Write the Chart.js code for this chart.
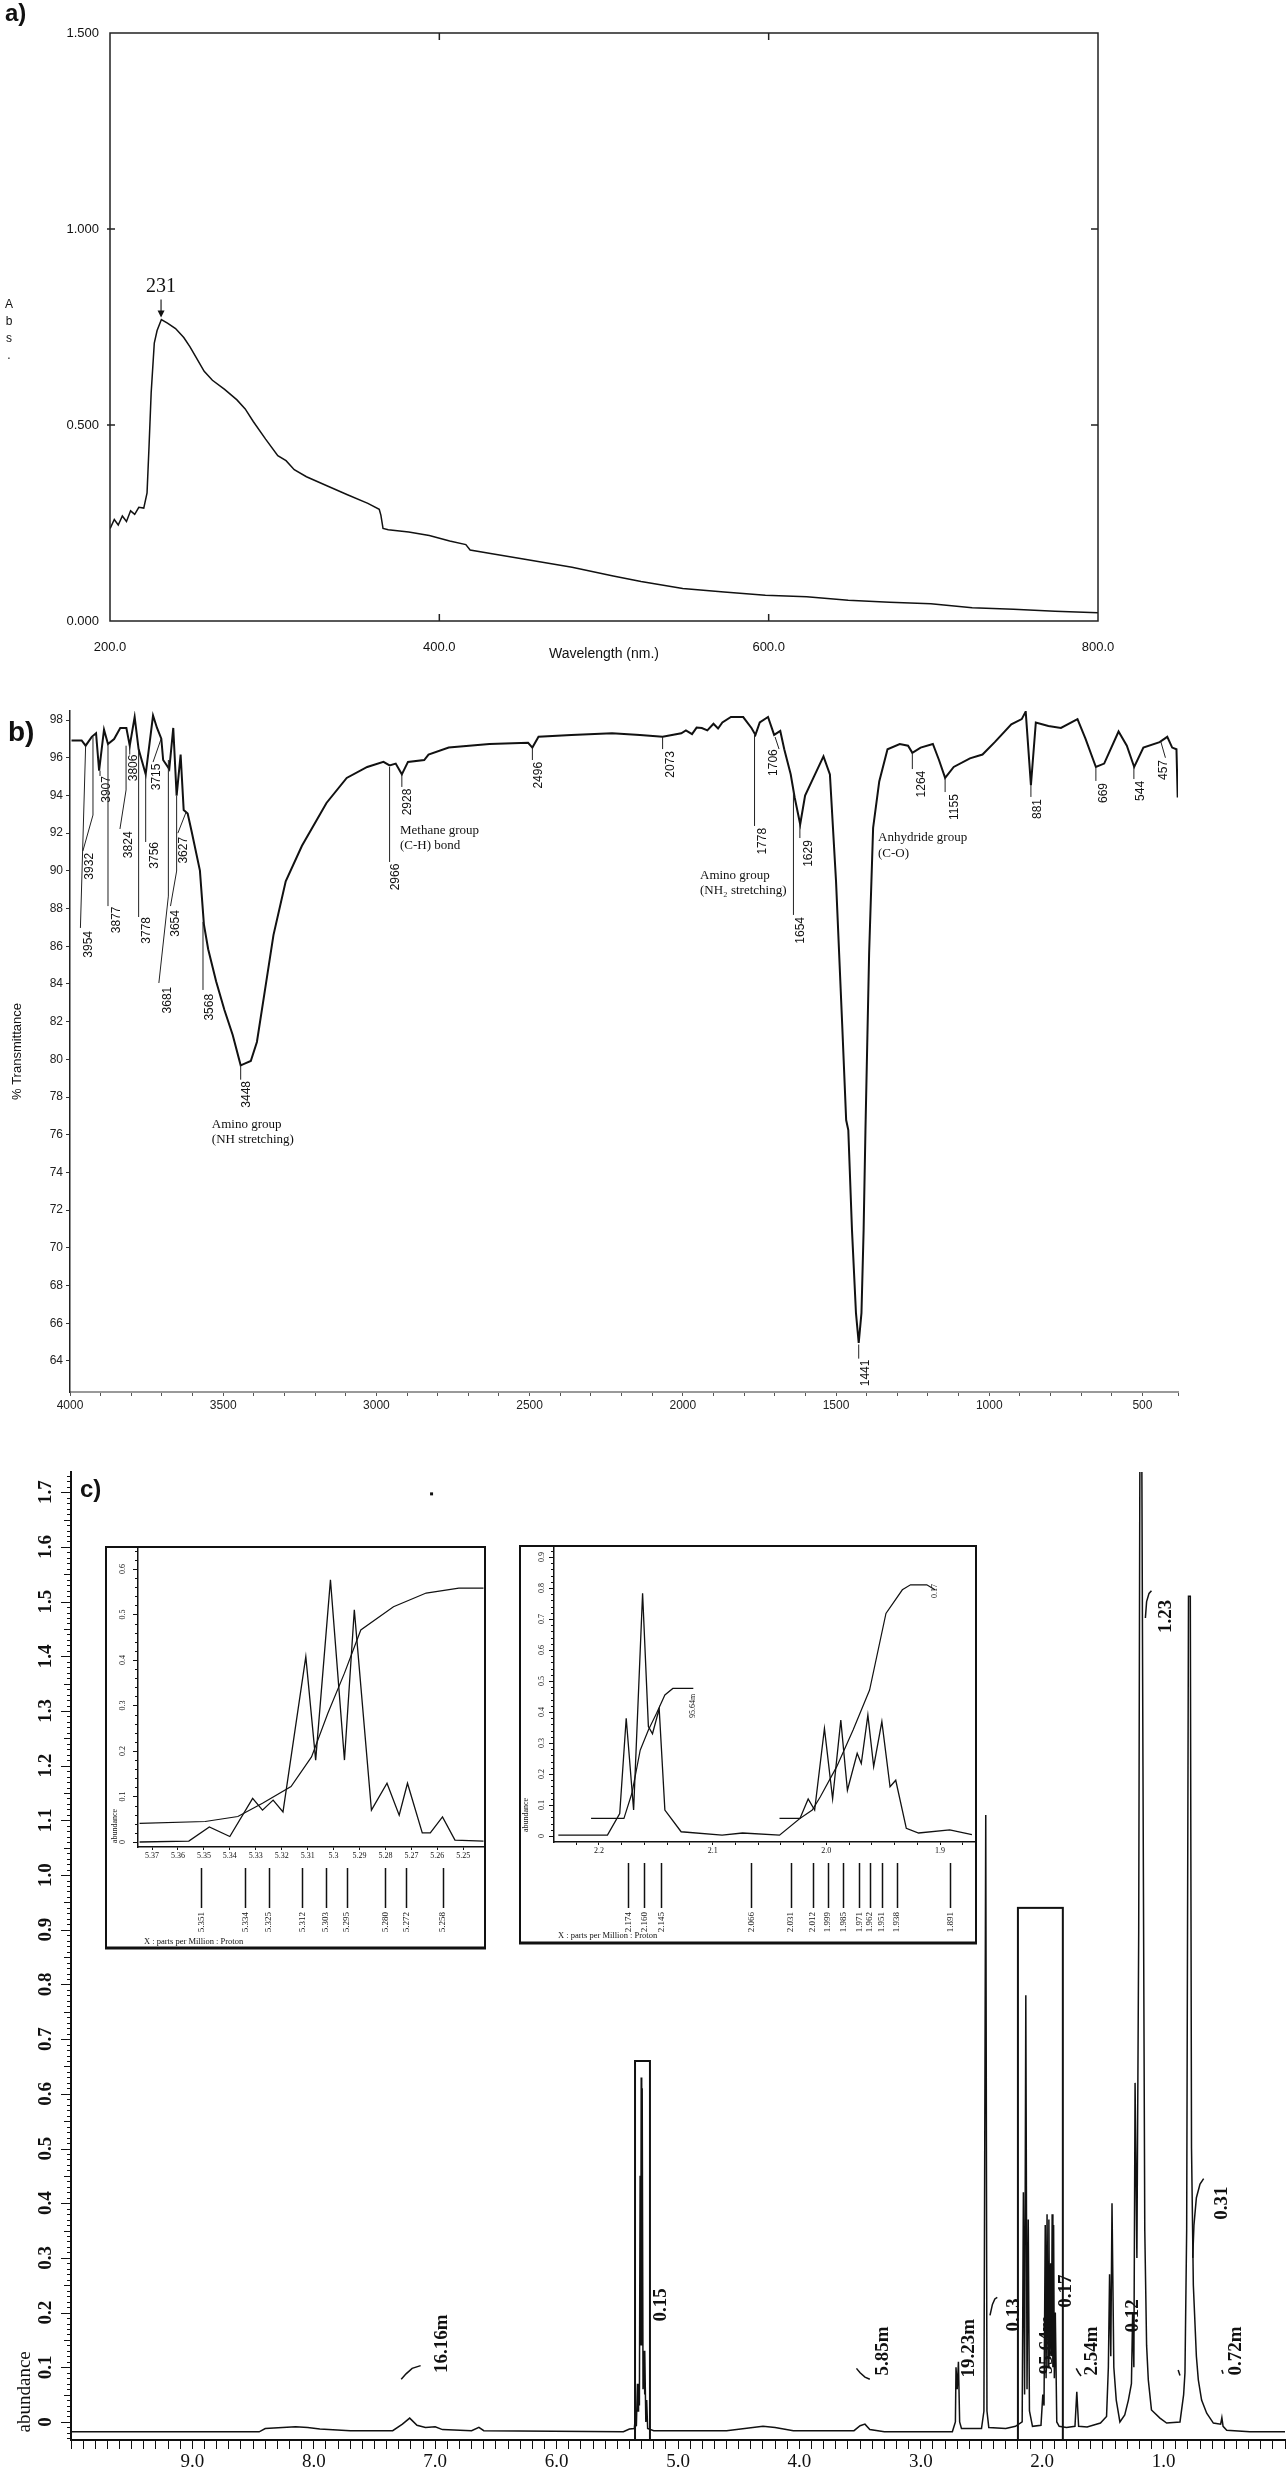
<!DOCTYPE html>
<html>
<head>
<meta charset="utf-8">
<title>UV-Vis, FTIR and 1H NMR spectra</title>
<script src="https://cdn.jsdelivr.net/npm/chart.js@4.4.1/dist/chart.umd.min.js"></script>
<style>
  html, body { margin: 0; padding: 0; background: #fff; }
  body { position: relative; width: 1287px; height: 2481px; overflow: hidden; }
  canvas { position: absolute; }
</style>
</head>
<body>
<canvas id="uv" width="1287" height="680" style="left:0;top:0"></canvas>
<canvas id="ir" width="1287" height="760" style="left:0;top:680px"></canvas>
<canvas id="nmr" width="1287" height="1041" style="left:0;top:1440px"></canvas>
<canvas id="ins1" width="381" height="404" style="left:105px;top:1546px"></canvas>
<canvas id="ins2" width="458" height="400" style="left:519px;top:1545px"></canvas>
<script>
const SANS = "'Liberation Sans', Arial, sans-serif";
const SERIF = "'Liberation Serif', 'Times New Roman', serif";

// ---- a) UV-Vis ----
const uvWavelength = [200.1, 202.6, 205, 207.5, 210, 212.5, 215, 217.5, 220.5, 222.5, 223.7, 225, 226.9, 228.6, 231.2, 234.9, 239.8, 244.8, 248.5, 252.2, 257.2, 262.2, 269.6, 277.1, 282.1, 287, 294.5, 301.9, 306.9, 311.9, 319.3, 331.7, 344.2, 356.6, 363.5, 364.5, 365.8, 369, 381.4, 393.9, 406.3, 416.1, 418.7, 431.1, 451, 480.6, 505.6, 522.5, 547.8, 572.9, 598, 623.1, 648.3, 673.4, 698.5, 723.6, 748.7, 773.9, 800];
const uvAbsorbance = [0.236, 0.259, 0.245, 0.268, 0.254, 0.281, 0.272, 0.29, 0.288, 0.327, 0.445, 0.582, 0.709, 0.741, 0.769, 0.76, 0.746, 0.723, 0.7, 0.673, 0.637, 0.614, 0.591, 0.564, 0.541, 0.509, 0.464, 0.422, 0.409, 0.386, 0.368, 0.345, 0.322, 0.3, 0.285, 0.27, 0.236, 0.233, 0.227, 0.218, 0.204, 0.195, 0.181, 0.172, 0.158, 0.137, 0.115, 0.101, 0.083, 0.074, 0.066, 0.062, 0.053, 0.048, 0.044, 0.034, 0.03, 0.025, 0.021];
const uvPeakLabel = '231';

// ---- b) FTIR ----
const irWavenumber = [3995, 3962, 3949, 3929, 3915, 3905, 3889, 3876, 3856, 3836, 3816, 3805, 3789, 3776, 3753, 3729, 3716, 3702, 3696, 3676, 3663, 3652, 3639, 3629, 3616, 3603, 3576, 3563, 3549, 3523, 3496, 3469, 3443, 3430, 3410, 3390, 3363, 3336, 3296, 3243, 3163, 3097, 3030, 2977, 2957, 2937, 2917, 2897, 2844, 2830, 2764, 2631, 2505, 2491, 2471, 2364, 2231, 2140, 2066, 2005, 1990, 1970, 1955, 1938, 1920, 1900, 1885, 1871, 1843, 1803, 1776, 1763, 1749, 1722, 1702, 1682, 1669, 1648, 1635, 1617, 1601, 1574, 1541, 1520, 1500, 1480, 1467, 1460, 1448, 1435, 1426, 1417, 1410, 1404, 1392, 1379, 1359, 1332, 1292, 1265, 1251, 1224, 1184, 1164, 1144, 1116, 1063, 1022, 982, 928, 894, 881, 864, 848, 807, 766, 712, 686, 652, 625, 578, 551, 527, 497, 444, 419, 403, 389, 385];
const irTransmittance = [96.92, 96.92, 96.64, 97.11, 97.30, 95.31, 97.49, 96.73, 96.99, 97.58, 97.58, 96.64, 98.16, 96.45, 95.12, 98.24, 97.58, 97.01, 95.88, 95.40, 97.58, 93.99, 96.17, 93.23, 93.04, 92.09, 90.01, 87.16, 85.84, 84.13, 82.62, 81.29, 79.68, 79.77, 79.91, 80.92, 83.75, 86.59, 89.44, 91.33, 93.60, 94.93, 95.51, 95.78, 95.59, 95.69, 95.12, 95.78, 95.88, 96.17, 96.54, 96.73, 96.79, 96.54, 97.11, 97.21, 97.30, 97.21, 97.11, 97.30, 97.45, 97.25, 97.6, 97.58, 97.45, 97.8, 97.55, 97.87, 98.16, 98.16, 97.58, 97.21, 97.87, 98.16, 97.21, 97.42, 96.45, 95.12, 93.89, 92.47, 93.99, 94.93, 96.07, 95.12, 89.44, 81.87, 76.78, 76.25, 70.95, 66.55, 64.95, 66.55, 70.95, 76.25, 85.65, 92.28, 94.74, 96.45, 96.73, 96.64, 96.26, 96.54, 96.73, 95.88, 94.93, 95.51, 95.97, 96.17, 96.83, 97.77, 98.05, 98.45, 94.55, 97.87, 97.68, 97.58, 98.05, 97.01, 95.51, 95.69, 97.39, 96.64, 95.51, 96.54, 96.83, 97.11, 96.54, 96.45, 93.89];
const irYTicks = [64, 66, 68, 70, 72, 74, 76, 78, 80, 82, 84, 86, 88, 90, 92, 94, 96, 98];

// peak labels: text, where the text sits (cm-1, %T of its top) and its leader line
const irNotes = [
  { t: '3954', x: 3938, y: 86.81, line: [[3949, 96.64], [3966, 86.97]] },
  { t: '3932', x: 3935, y: 90.95, line: [[3925, 97.10], [3925, 92.96], [3958, 91.05]] },
  { t: '3907', x: 3879, y: 95.03, line: [[3902, 95.31], [3902, 95.03]] },
  { t: '3877', x: 3849, y: 88.11, line: [[3876, 96.73], [3876, 88.13]] },
  { t: '3824', x: 3809, y: 92.09, line: [[3817, 96.64], [3817, 94.29], [3837, 92.22]] },
  { t: '3806', x: 3793, y: 96.17, line: [[3805, 96.64], [3805, 96.17]] },
  { t: '3778', x: 3749, y: 87.55, line: [[3776, 96.46], [3776, 87.55]] },
  { t: '3756', x: 3723, y: 91.53, line: [[3753, 95.14], [3753, 91.53]] },
  { t: '3715', x: 3716, y: 95.69, line: [[3703, 96.99], [3729, 95.77]] },
  { t: '3681', x: 3680, y: 83.85, line: [[3679, 95.88], [3679, 88.66], [3710, 84.05]] },
  { t: '3654', x: 3656, y: 87.92, line: [[3652, 93.97], [3652, 89.99], [3672, 88.13]] },
  { t: '3627', x: 3629, y: 91.80, line: [[3621, 93.12], [3648, 92.0]] },
  { t: '3568', x: 3543, y: 83.47, line: [[3566, 87.29], [3566, 83.68]] },
  { t: '3448', x: 3423, y: 78.85, line: [[3443, 79.68], [3443, 78.92]] },
  { t: '2966', x: 2937, y: 90.38, line: [[2957, 95.51], [2957, 90.47]] },
  { t: '2928', x: 2897, y: 94.36, line: [[2917, 95.14], [2917, 94.45]] },
  { t: '2496', x: 2471, y: 95.78, line: [[2491, 96.54], [2491, 95.88]] },
  { t: '2073', x: 2039, y: 96.36, line: [[2066, 97.11], [2066, 96.46]] },
  { t: '1778', x: 1738, y: 92.28, line: [[1766, 97.21], [1766, 92.38]] },
  { t: '1706', x: 1703, y: 96.45, line: [[1699, 97.10], [1686, 96.46]] },
  { t: '1654', x: 1614, y: 87.55, line: [[1639, 94.18], [1639, 87.66]] },
  { t: '1629', x: 1588, y: 91.63, line: [[1618, 92.48], [1618, 91.74]] },
  { t: '1264', x: 1220, y: 95.31, line: [[1251, 96.26], [1251, 95.40]] },
  { t: '1155', x: 1114, y: 94.07, line: [[1144, 94.92], [1144, 94.18]] },
  { t: '881', x: 841, y: 93.81, line: [[864, 94.55], [864, 93.92]] },
  { t: '669', x: 626, y: 94.66, line: [[652, 95.51], [652, 94.77]] },
  { t: '544', x: 505, y: 94.77, line: [[528, 95.51], [528, 94.87]] },
  { t: '457', x: 432, y: 95.88, line: [[440, 96.85], [425, 96.0]] },
  { t: '1441', x: 1404, y: 64.07, line: [[1426, 64.87], [1426, 64.12]] }
];
const irGroups = [
  { lines: ['Methane group', '(C-H) bond'], x: 2923, y: [92.11, 91.32] },
  { lines: ['Amino group', '(NH\u2082 stretching)'], x: 1944, y: [89.73, 88.93] },
  { lines: ['Anhydride group', '(C-O)'], x: 1363, y: [91.74, 90.89] },
  { lines: ['Amino group', '(NH stretching)'], x: 3537, y: [76.52, 75.72] }
];

// ---- c) 1H NMR ----
const nmrShift = [10.00, 8.45, 8.40, 8.15, 8.05, 7.95, 7.70, 7.35, 7.27, 7.21, 7.15, 7.08, 7.00, 6.94, 6.70, 6.64, 6.60, 5.45, 5.40, 5.36, 5.351, 5.343, 5.334, 5.329, 5.325, 5.318, 5.312, 5.307, 5.303, 5.299, 5.295, 5.288, 5.280, 5.276, 5.272, 5.265, 5.258, 5.250, 5.200, 4.60, 4.45, 4.30, 4.20, 4.05, 3.55, 3.50, 3.46, 3.42, 3.30, 2.74, 2.715, 2.710, 2.700, 2.690, 2.680, 2.665, 2.50, 2.48, 2.465, 2.455, 2.44, 2.30, 2.22, 2.165, 2.155, 2.145, 2.135, 2.125, 2.115, 2.105, 2.08, 2.01, 1.995, 1.985, 1.975, 1.968, 1.960, 1.952, 1.945, 1.938, 1.930, 1.924, 1.918, 1.912, 1.906, 1.900, 1.892, 1.880, 1.860, 1.80, 1.73, 1.715, 1.70, 1.63, 1.52, 1.47, 1.455, 1.445, 1.435, 1.425, 1.41, 1.39, 1.36, 1.32, 1.29, 1.265, 1.255, 1.245, 1.235, 1.22, 1.205, 1.195, 1.18, 1.17, 1.155, 1.14, 1.126, 1.10, 1.03, 0.975, 0.865, 0.835, 0.824, 0.81, 0.795, 0.78, 0.77, 0.755, 0.73, 0.714, 0.687, 0.645, 0.59, 0.53, 0.52, 0.51, 0.48, 0.29, 0.00];
const nmrAbundance = [-0.018, -0.018, -0.012, -0.009, -0.010, -0.013, -0.016, -0.016, -0.004, 0.007, -0.006, -0.010, -0.009, -0.014, -0.016, -0.010, -0.016, -0.018, -0.013, -0.012, 0.010, -0.008, 0.070, 0.020, 0.070, 0.030, 0.450, 0.140, 0.630, 0.140, 0.610, 0.060, 0.130, 0.050, 0.130, 0.000, 0.040, -0.012, -0.016, -0.016, -0.012, -0.008, -0.010, -0.016, -0.016, -0.007, -0.004, -0.014, -0.018, -0.018, 0.000, 0.100, 0.060, 0.110, 0.000, -0.012, -0.012, 0.020, 1.110, 0.020, -0.010, -0.012, -0.008, 0.000, 0.420, 0.050, 0.780, 0.060, 0.370, 0.020, -0.008, -0.006, 0.050, 0.030, 0.360, 0.080, 0.380, 0.100, 0.370, 0.120, 0.290, 0.120, 0.380, 0.100, 0.360, 0.080, 0.200, 0.000, -0.008, -0.010, -0.008, 0.055, -0.008, -0.009, -0.002, 0.010, 0.100, 0.270, 0.120, 0.400, 0.100, 0.040, 0.000, 0.013, 0.040, 0.070, 0.200, 0.100, 0.620, 0.300, 0.900, 1.800, 1.800, 1.200, 0.350, 0.140, 0.077, 0.022, 0.007, -0.002, 0.000, 0.050, 0.090, 0.350, 1.510, 1.510, 0.500, 0.250, 0.120, 0.077, 0.040, 0.016, -0.002, -0.004, 0.008, -0.008, -0.015, -0.018, -0.018];
const nmrYTicks = [0, 0.1, 0.2, 0.3, 0.4, 0.5, 0.6, 0.7, 0.8, 0.9, 1.0, 1.1, 1.2, 1.3, 1.4, 1.5, 1.6, 1.7];
const nmrIntegrals = [
  { t: '16.16m', x: 6.94, y: 0.143 }, { t: '0.15', x: 5.14, y: 0.214 },
  { t: '5.85m', x: 3.31, y: 0.13 }, { t: '19.23m', x: 2.60, y: 0.135 },
  { t: '0.13', x: 2.23, y: 0.196 }, { t: '95.64m', x: 1.96, y: 0.141 },
  { t: '0.17', x: 1.80, y: 0.239 }, { t: '2.54m', x: 1.59, y: 0.13 },
  { t: '0.12', x: 1.25, y: 0.194 }, { t: '0.31', x: 0.52, y: 0.40 },
  { t: '0.72m', x: 0.40, y: 0.13 }, { t: '1.23', x: 0.98, y: 1.473 }
];
const nmrHooks = [
  [[7.28, 0.078], [7.24, 0.088], [7.19, 0.098], [7.12, 0.103]],
  [[3.53, 0.098], [3.50, 0.09], [3.46, 0.082], [3.42, 0.078]],
  [[2.43, 0.195], [2.41, 0.215], [2.39, 0.225], [2.37, 0.228]],
  [[1.72, 0.098], [1.70, 0.09], [1.68, 0.084]],
  [[0.76, 0.30], [0.75, 0.36], [0.73, 0.41], [0.70, 0.435], [0.67, 0.445]],
  [[0.88, 0.095], [0.865, 0.085]],
  [[0.52, 0.095], [0.51, 0.088]],
  [[1.15, 1.47], [1.14, 1.50], [1.12, 1.515], [1.10, 1.52]]
];
const nmrBoxes = [[5.354, 5.231, 0.66, -0.033], [2.20, 1.83, 0.94, -0.033]];

// inset 1 (5.3 ppm multiplet)
const ins1Shift = [5.3748, 5.3558, 5.3479, 5.3400, 5.3312, 5.3274, 5.3233, 5.3195, 5.3107, 5.3069, 5.3012, 5.2958, 5.2920, 5.2854, 5.2794, 5.2747, 5.2715, 5.2658, 5.2627, 5.2580, 5.2532, 5.2422];
const ins1Abundance = [0.000, 0.002, 0.033, 0.012, 0.096, 0.070, 0.092, 0.066, 0.407, 0.180, 0.576, 0.180, 0.510, 0.070, 0.129, 0.059, 0.129, 0.020, 0.020, 0.055, 0.004, 0.002];
const ins1IntShift = [5.3748, 5.3495, 5.3369, 5.3274, 5.3164, 5.3085, 5.3022, 5.2958, 5.2895, 5.2769, 5.2643, 5.2517, 5.2422];
const ins1IntValue = [0.041, 0.045, 0.056, 0.085, 0.122, 0.187, 0.283, 0.371, 0.466, 0.517, 0.547, 0.558, 0.558];
const ins1XTicks = [5.37, 5.36, 5.35, 5.34, 5.33, 5.32, 5.31, 5.3, 5.29, 5.28, 5.27, 5.26, 5.25];
const ins1Peaks = ['5.351', '5.334', '5.325', '5.312', '5.303', '5.295', '5.280', '5.272', '5.258'];
const ins1YTicks = [0, 0.1, 0.2, 0.3, 0.4, 0.5, 0.6];

// inset 2 (2.2 - 1.9 ppm)
const ins2Shift = [2.2357, 2.1925, 2.1817, 2.1760, 2.1695, 2.1616, 2.1565, 2.1529, 2.1470, 2.1420, 2.1277, 2.0917, 2.0737, 2.0412, 2.0232, 2.0160, 2.0103, 2.0017, 1.9945, 1.9873, 1.9815, 1.9729, 1.9693, 1.9635, 1.9584, 1.9512, 1.9440, 1.9390, 1.9297, 1.9189, 1.8915, 1.8720];
const ins2Abundance = [0.003, 0.003, 0.073, 0.380, 0.084, 0.783, 0.353, 0.330, 0.410, 0.084, 0.014, 0.003, 0.010, 0.003, 0.057, 0.120, 0.084, 0.347, 0.120, 0.374, 0.148, 0.267, 0.234, 0.390, 0.224, 0.369, 0.159, 0.180, 0.025, 0.010, 0.020, 0.005];
const ins2IntAShift = [2.2069, 2.1780, 2.1710, 2.1637, 2.1565, 2.1493, 2.1420, 2.1350, 2.1170];
const ins2IntAValue = [0.057, 0.057, 0.138, 0.277, 0.342, 0.396, 0.455, 0.476, 0.476];
const ins2IntBShift = [2.0412, 2.0232, 2.0124, 2.0053, 1.9909, 1.9765, 1.9620, 1.9476, 1.9332, 1.9260, 1.9117, 1.9045];
const ins2IntBValue = [0.057, 0.057, 0.084, 0.127, 0.224, 0.342, 0.471, 0.718, 0.794, 0.810, 0.810, 0.794];
const ins2XTicks = [2.22, 2.2, 2.18, 2.16, 2.14, 2.12, 2.1, 2.08, 2.06, 2.04, 2.02, 2.0, 1.98, 1.96, 1.94, 1.92, 1.9, 1.88];
const ins2Peaks = ['2.174', '2.160', '2.145', '2.066', '2.031', '2.012', '1.999', '1.985', '1.971', '1.962', '1.951', '1.938', '1.891'];
const ins2YTicks = [0, 0.1, 0.2, 0.3, 0.4, 0.5, 0.6, 0.7, 0.8, 0.9];

// ---------- helpers ----------
const pts = (xs, ys) => xs.map((x, i) => ({ x: x, y: ys[i] }));
const line = (xs, ys, w) => ({ data: pts(xs, ys), borderColor: '#111', borderWidth: w, pointRadius: 0, tension: 0, fill: false });
const onStep = (v, f) => Math.abs(v * f - Math.round(v * f)) < 1e-6;

function upText(ctx, text, px, py, align) {
  ctx.save();
  ctx.translate(px, py);
  ctx.rotate(-Math.PI / 2);
  ctx.textAlign = align || 'center';
  ctx.textBaseline = 'middle';
  ctx.fillText(text, 0, 0);
  ctx.restore();
}
function path(ctx, x, y, list) {
  ctx.beginPath();
  list.forEach(([a, b], i) => {
    const px = x.getPixelForValue(a), py = y.getPixelForValue(b);
    if (i) ctx.lineTo(px, py); else ctx.moveTo(px, py);
  });
  ctx.stroke();
}
function baseOptions() {
  return {
    animation: false, responsive: false, events: [],
    plugins: { legend: { display: false }, tooltip: { enabled: false } }
  };
}

// ---------- a) UV ----------
const uvDecor = {
  id: 'uvDecor',
  afterDraw(chart) {
    const { ctx, chartArea: a, scales: { x, y } } = chart;
    ctx.save();
    ctx.strokeStyle = '#222';
    ctx.lineWidth = 1.5;
    ctx.strokeRect(a.left, a.top, a.right - a.left, a.bottom - a.top);
    ctx.beginPath();
    [400, 600].forEach(v => {
      const px = x.getPixelForValue(v);
      ctx.moveTo(px, a.top); ctx.lineTo(px, a.top + 7);
      ctx.moveTo(px, a.bottom); ctx.lineTo(px, a.bottom - 7);
    });
    [0.5, 1.0].forEach(v => {
      const py = y.getPixelForValue(v);
      ctx.moveTo(a.left - 3, py); ctx.lineTo(a.left + 5, py);
      ctx.moveTo(a.right, py); ctx.lineTo(a.right - 7, py);
    });
    ctx.stroke();

    ctx.fillStyle = '#111';
    ctx.font = 'bold 24px ' + SANS;
    ctx.textAlign = 'left'; ctx.textBaseline = 'alphabetic';
    ctx.fillText('a)', 5, 21);

    ctx.font = '12px ' + SANS;
    ctx.textAlign = 'center'; ctx.textBaseline = 'middle';
    ['A', 'b', 's', '.'].forEach((c, i) => ctx.fillText(c, 9, 305 + i * 17));

    const px = x.getPixelForValue(231);
    ctx.font = '20px ' + SERIF;
    ctx.fillText(uvPeakLabel, px, y.getPixelForValue(0.852));
    const y0 = y.getPixelForValue(0.82), y1 = y.getPixelForValue(0.774);
    ctx.lineWidth = 1.2;
    ctx.beginPath(); ctx.moveTo(px, y0); ctx.lineTo(px, y1 - 4); ctx.stroke();
    ctx.beginPath(); ctx.moveTo(px - 3.5, y1 - 7); ctx.lineTo(px + 3.5, y1 - 7); ctx.lineTo(px, y1); ctx.closePath(); ctx.fill();
    ctx.restore();
  }
};

new Chart(document.getElementById('uv'), {
  type: 'line',
  data: { datasets: [line(uvWavelength, uvAbsorbance, 1.5)] },
  options: Object.assign(baseOptions(), {
    layout: { padding: { top: 33, right: 189, left: 0, bottom: 0 } },
    scales: {
      x: {
        type: 'linear', min: 200, max: 800,
        ticks: { stepSize: 200, maxRotation: 0, callback: v => v.toFixed(1), font: { family: SANS, size: 13 }, color: '#111', padding: 11 },
        grid: { display: false }, border: { display: false },
        title: { display: true, text: 'Wavelength (nm.)', font: { family: SANS, size: 14 }, color: '#111', padding: { top: 0, bottom: 17 } },
        afterFit: s => { s.height = 59; }
      },
      y: {
        min: 0, max: 1.5,
        ticks: { stepSize: 0.5, callback: v => v.toFixed(3), font: { family: SANS, size: 13 }, color: '#111', padding: 3 },
        grid: { display: false }, border: { display: false },
        afterFit: s => { s.width = 110; }
      }
    }
  }),
  plugins: [uvDecor]
});

// ---------- b) FTIR ----------
const irDecor = {
  id: 'irDecor',
  afterDraw(chart) {
    const { ctx, scales: { x, y } } = chart;
    ctx.save();
    ctx.strokeStyle = '#222';
    ctx.fillStyle = '#111';
    ctx.lineWidth = 1;
    ctx.font = '12px ' + SANS;
    irNotes.forEach(n => {
      path(ctx, x, y, n.line);
      upText(ctx, n.t, x.getPixelForValue(n.x), y.getPixelForValue(n.y), 'right');
    });
    ctx.font = '13px ' + SERIF;
    ctx.textAlign = 'left'; ctx.textBaseline = 'middle';
    irGroups.forEach(g => g.lines.forEach((s, i) => ctx.fillText(s, x.getPixelForValue(g.x), y.getPixelForValue(g.y[i]))));
    ctx.font = 'bold 28px ' + SANS;
    ctx.textBaseline = 'alphabetic';
    ctx.fillText('b)', 8, 61);
    ctx.restore();
  }
};

new Chart(document.getElementById('ir'), {
  type: 'line',
  data: { datasets: [line(irWavenumber, irTransmittance, 2)] },
  options: Object.assign(baseOptions(), {
    layout: { padding: { top: 31, right: 109, left: 0, bottom: 0 } },
    scales: {
      x: {
        type: 'linear', reverse: true, min: 384, max: 4000,
        ticks: { stepSize: 100, autoSkip: false, maxRotation: 0, callback: v => (v % 500 === 0 ? String(v) : ''), font: { family: SANS, size: 12 }, color: '#222', padding: 2 },
        grid: { drawOnChartArea: false, tickLength: 4, color: '#555' },
        border: { color: '#999', width: 2 },
        afterFit: s => { s.height = 48; }
      },
      y: {
        min: 62.35, max: 98.48,
        afterBuildTicks: s => { s.ticks = irYTicks.map(v => ({ value: v })); },
        ticks: { callback: v => String(v), font: { family: SANS, size: 12 }, color: '#222', padding: 3 },
        grid: { drawOnChartArea: false, tickLength: 4, color: '#333' },
        border: { dash: [2, 2], color: '#222', width: 1.5 },
        title: { display: true, text: '% Transmittance', font: { family: SANS, size: 13 }, color: '#111', padding: { top: 10, bottom: 0 } },
        afterFit: s => { s.width = 70; }
      }
    }
  }),
  plugins: [irDecor]
});

// ---------- c) 1H NMR ----------
const nmrDecor = {
  id: 'nmrDecor',
  afterDraw(chart) {
    const { ctx, chartArea: a, scales: { x, y } } = chart;
    ctx.save();
    ctx.strokeStyle = '#111';
    ctx.fillStyle = '#111';
    ctx.lineWidth = 1;
    ctx.beginPath();
    for (let i = -3; i <= 173; i++) {
      const py = Math.round(y.getPixelForValue(i / 100)) + 0.5;
      const len = i % 10 === 0 ? 10 : (i % 5 === 0 ? 7 : 4);
      ctx.moveTo(a.left - len, py); ctx.lineTo(a.left, py);
    }
    ctx.stroke();

    ctx.font = 'bold 19px ' + SERIF;
    nmrYTicks.forEach(v => upText(ctx, v === 0 ? '0' : v.toFixed(1), 46, y.getPixelForValue(v)));
    ctx.font = '19px ' + SERIF;
    upText(ctx, 'abundance', 25, y.getPixelForValue(0.055));

    ctx.lineWidth = 2;
    nmrBoxes.forEach(b => {
      const x1 = x.getPixelForValue(b[0]), x2 = x.getPixelForValue(b[1]);
      const y1 = y.getPixelForValue(b[2]), y2 = y.getPixelForValue(b[3]);
      ctx.strokeRect(x1, y1, x2 - x1, y2 - y1);
    });

    ctx.lineWidth = 1.5;
    nmrHooks.forEach(h => path(ctx, x, y, h));
    ctx.font = 'bold 19px ' + SERIF;
    nmrIntegrals.forEach(n => upText(ctx, n.t, x.getPixelForValue(n.x), y.getPixelForValue(n.y)));

    ctx.fillRect(x.getPixelForValue(7.03) - 1.5, y.getPixelForValue(1.697) - 1.5, 3, 3);

    ctx.font = 'bold 24px ' + SANS;
    ctx.textAlign = 'left'; ctx.textBaseline = 'alphabetic';
    ctx.fillText('c)', 80, 57);
    ctx.restore();
  }
};

new Chart(document.getElementById('nmr'), {
  type: 'line',
  data: { datasets: [line(nmrShift, nmrAbundance, 1.5)] },
  options: Object.assign(baseOptions(), {
    layout: { padding: { top: 32, right: 2, left: 0, bottom: 0 } },
    scales: {
      x: {
        type: 'linear', reverse: true, min: 0, max: 10,
        ticks: { stepSize: 0.1, autoSkip: false, maxRotation: 0, callback: v => (onStep(v, 1) && v >= 1 && v <= 9 ? v.toFixed(1) : ''), font: { family: SERIF, size: 19 }, color: '#111', padding: 2 },
        grid: { drawOnChartArea: false, tickLength: 9, color: '#111' },
        border: { color: '#111', width: 2 },
        afterFit: s => { s.height = 41; }
      },
      y: {
        min: -0.033, max: 1.737,
        ticks: { display: false }, grid: { display: false },
        border: { color: '#111', width: 2 },
        afterFit: s => { s.width = 71; }
      }
    }
  }),
  plugins: [nmrDecor]
});

// ---------- insets ----------
function insetDecor(cfg) {
  return {
    id: 'insetDecor',
    afterDraw(chart) {
      const { ctx, chartArea: a, scales: { x, y }, width: W, height: H } = chart;
      ctx.save();
      ctx.strokeStyle = '#111';
      ctx.fillStyle = '#111';
      ctx.lineWidth = 2;
      ctx.strokeRect(1, 1, W - 2, H - 3);
      ctx.lineWidth = 3;
      ctx.beginPath(); ctx.moveTo(0, H - 2); ctx.lineTo(W, H - 2); ctx.stroke();

      ctx.lineWidth = 1;
      ctx.beginPath();
      for (let i = 0; i <= Math.floor(cfg.yMax * 50); i++) {
        const py = Math.round(y.getPixelForValue(i / 50)) + 0.5;
        const len = i % 5 === 0 ? 5 : 3;
        ctx.moveTo(a.left - len, py); ctx.lineTo(a.left, py);
      }
      ctx.stroke();

      ctx.font = '8px ' + SERIF;
      cfg.yTicks.forEach(v => upText(ctx, String(v), cfg.yLabelX, y.getPixelForValue(v)));
      upText(ctx, 'abundance', cfg.abX, y.getPixelForValue(cfg.abV));

      ctx.beginPath();
      cfg.peaks.forEach(s => {
        const px = Math.round(x.getPixelForValue(parseFloat(s))) + 0.5;
        ctx.moveTo(px, a.bottom + cfg.mark[0]); ctx.lineTo(px, a.bottom + cfg.mark[1]);
      });
      ctx.lineWidth = 1.5;
      ctx.stroke();
      ctx.font = '9px ' + SERIF;
      cfg.peaks.forEach(s => upText(ctx, s, x.getPixelForValue(parseFloat(s)), a.bottom + cfg.mark[1] + 4, 'right'));

      ctx.font = '8.5px ' + SERIF;
      ctx.textAlign = 'left'; ctx.textBaseline = 'middle';
      ctx.fillText('X : parts per Million : Proton', cfg.capX, cfg.capY);
      ctx.font = '8px ' + SERIF;
      (cfg.notes || []).forEach(n => upText(ctx, n.t, x.getPixelForValue(n.x), y.getPixelForValue(n.y)));
      ctx.restore();
    }
  };
}

function makeInset(id, cfg) {
  new Chart(document.getElementById(id), {
    type: 'line',
    data: { datasets: cfg.series },
    options: Object.assign(baseOptions(), {
      layout: { padding: { top: 2, right: 2, left: 0, bottom: 0 } },
      scales: {
        x: {
          type: 'linear', reverse: true, min: cfg.xMin, max: cfg.xMax,
          afterBuildTicks: s => { s.ticks = cfg.xTicks.map(v => ({ value: v })); },
          ticks: { autoSkip: false, maxRotation: 0, callback: cfg.xFormat, font: { family: SERIF, size: 8 }, color: '#111', padding: 1 },
          grid: { drawOnChartArea: false, tickLength: 3, color: '#111' },
          border: { color: '#111', width: 1.5 },
          afterFit: s => { s.height = cfg.xHeight; }
        },
        y: {
          min: cfg.yMin, max: cfg.yMax,
          ticks: { display: false }, grid: { display: false },
          border: { color: '#111', width: 1.5 },
          afterFit: s => { s.width = cfg.yWidth; }
        }
      }
    }),
    plugins: [insetDecor(cfg)]
  });
}

makeInset('ins1', {
  series: [line(ins1Shift, ins1Abundance, 1.3), line(ins1IntShift, ins1IntValue, 1.2)],
  xMin: 5.242, xMax: 5.3754, xTicks: ins1XTicks,
  xFormat: v => String(+v.toFixed(2)),
  yMin: -0.011, yMax: 0.646, xHeight: 103, yWidth: 33,
  yTicks: ins1YTicks, yLabelX: 18, abX: 10, abV: 0.035,
  peaks: ins1Peaks, mark: [21, 61], capX: 39, capY: 396
});

makeInset('ins2', {
  series: [line(ins2Shift, ins2Abundance, 1.3), line(ins2IntAShift, ins2IntAValue, 1.2), line(ins2IntBShift, ins2IntBValue, 1.2)],
  xMin: 1.8693, xMax: 2.2395, xTicks: ins2XTicks,
  xFormat: v => (onStep(v, 10) ? v.toFixed(1) : ''),
  yMin: -0.019, yMax: 0.932, xHeight: 103, yWidth: 35,
  yTicks: ins2YTicks, yLabelX: 23, abX: 7, abV: 0.068,
  peaks: ins2Peaks, mark: [21, 66], capX: 39, capY: 391,
  notes: [{ t: '95.64m', x: 2.1175, y: 0.42 }, { t: '0.17', x: 1.9044, y: 0.79 }]
});
</script>
</body>
</html>
